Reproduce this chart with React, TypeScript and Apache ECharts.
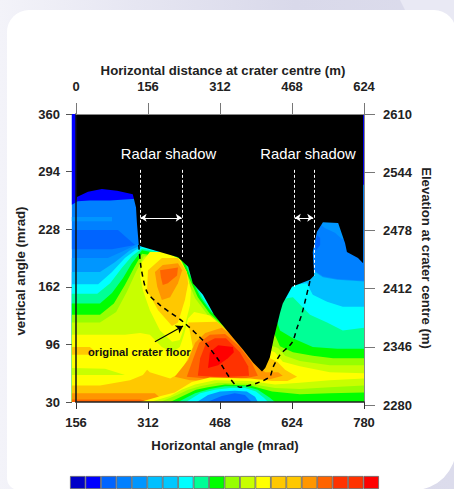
import React, { useEffect, useRef } from "react";
import * as echarts from "echarts";

const FONT = "Liberation Sans";

const angleTicks = [156, 312, 468, 624, 780];
const verticalTicks = [30, 96, 162, 228, 294, 360];
const distanceTicks = [0, 156, 312, 468, 624];
const elevationTicks = [2280, 2346, 2412, 2478, 2544, 2610];

const palette = [
  "#0000c8", "#0000ff", "#0064ff", "#0080ff", "#0096ff",
  "#00c0ff", "#00c8ff", "#00ffff", "#00ff96", "#00ff00",
  "#96ff00", "#c8ff00", "#ffff00", "#ffc800", "#ffc800",
  "#ff9600", "#ff6400", "#ff3200", "#ff3200", "#ff0000",
];

const bottomClose = [[780, 30], [147, 30]];

const baseFill = [[147, 360], [780, 360], [780, 30], [147, 30]];
const capBlue = [[147, 360], [780, 360], [780, 279], [284, 279], [286, 263], [230, 261], [186, 261], [160, 260], [147, 256]];
const stripLeft = [[147, 242], [234, 242], [234, 237], [147, 237]];
const wedgeLeft = [[147, 227], [247, 227], [284, 210], [234, 205], [147, 205]];

const contour4 = [[147, 195], [225, 195], [254, 202], [290, 211], [377, 204], [403, 187], [511, 147], [641, 181], [674, 180], [691, 174], [722, 171], [780, 169]];
const contour5 = [[147, 179], [208, 179], [240, 190], [273, 204], [295, 209], [381, 202], [407, 175], [433, 151], [490, 147], [641, 181], [674, 179], [691, 173], [722, 170], [780, 168]];
const contour7 = [[147, 165], [204, 165], [234, 179], [262, 195], [284, 204], [305, 209], [392, 198], [409, 172], [436, 149], [494, 135], [626, 164], [656, 166], [669, 153], [700, 145], [734, 139], [780, 139]];
const contour8 = [[147, 154], [202, 154], [230, 166], [256, 184], [277, 197], [299, 206], [392, 195], [407, 172], [431, 149], [451, 133], [511, 112], [592, 141], [613, 149], [626, 150], [663, 130], [700, 121], [734, 112], [780, 115]];
const contour9 = [[147, 143], [208, 143], [234, 155], [258, 172], [277, 189], [299, 204], [388, 195], [405, 172], [427, 149], [449, 133], [511, 107], [581, 118], [592, 121], [598, 112], [626, 103], [669, 93], [722, 91], [780, 91]];
const contour10 = [[147, 130], [208, 130], [238, 143], [262, 164], [282, 184], [299, 200], [384, 193], [401, 172], [420, 150], [446, 131], [511, 101], [578, 101], [585, 109], [598, 94], [626, 87], [669, 83], [713, 80], [780, 80]];
const contour11 = [[147, 121], [208, 121], [243, 133], [266, 156], [286, 179], [303, 197], [377, 195], [396, 172], [414, 149], [442, 129], [511, 99], [576, 95], [594, 92], [609, 83], [641, 77], [706, 72], [780, 72]];
const contour12 = [[147, 107], [262, 107], [295, 109], [316, 107], [342, 93], [364, 87], [381, 93], [390, 107], [399, 126], [412, 133], [446, 129], [511, 99], [572, 90], [587, 87], [604, 76], [641, 71], [706, 64], [780, 63]];

const peakCap = [[685, 239], [728, 239], [741, 216], [732, 217], [717, 224], [696, 229], [689, 232]];
const peakSpot = [[674, 210], [678, 221], [685, 218], [685, 210], [676, 204]];

const hillYellow = [[299, 190], [316, 202], [349, 202], [381, 194], [396, 179], [405, 158], [403, 141], [392, 118], [381, 101], [364, 99], [338, 112], [316, 135], [301, 158], [295, 175]];
const hillAmber = [[312, 181], [342, 195], [377, 195], [396, 179], [399, 166], [392, 147], [377, 121], [364, 117], [334, 135], [310, 158]];
const hillOrange = [[327, 179], [344, 187], [377, 189], [386, 181], [377, 166], [360, 150], [342, 147], [332, 162]];
const hillCore = [[338, 181], [377, 184], [375, 175], [355, 166], [344, 164], [340, 173]];

const bandAmberLeft = [[147, 93], [186, 93], [197, 88], [186, 84], [147, 84]];
const bandLimeLeft = [[147, 69], [219, 68], [262, 61], [147, 61]];

const hotAmber = [[147, 49], [208, 49], [273, 55], [301, 61], [310, 67], [316, 64], [360, 57], [381, 63], [399, 80], [409, 93], [399, 121], [461, 122], [511, 101], [559, 72], [576, 80], [592, 76], [609, 67], [635, 59], [609, 53], [576, 52], [533, 49], [425, 38], [338, 30], [147, 30]];
const floorOrange = [[147, 40], [327, 40], [340, 34], [345, 30], [147, 30]];
const floorDeep = [[147, 33], [295, 33], [316, 30], [147, 30]];
const hotOrange = [[370, 59], [399, 78], [414, 98], [436, 109], [472, 115], [511, 99], [550, 72], [566, 64], [594, 64], [604, 60], [576, 56], [522, 55], [457, 54], [403, 55]];
const hotDeep = [[396, 59], [409, 78], [423, 98], [446, 107], [479, 108], [511, 93], [537, 75], [550, 60], [511, 56], [457, 56]];
const hotScarlet = [[420, 60], [425, 80], [438, 98], [457, 103], [481, 103], [511, 87], [529, 71], [531, 60], [490, 59], [457, 59]];
const hotRed = [[446, 87], [464, 95], [496, 93], [498, 87], [485, 80], [464, 72], [442, 69]];

const coldYellow = [[295, 30], [340, 37], [370, 41], [407, 53], [446, 58], [533, 57], [581, 54], [635, 54], [685, 57], [780, 57], [780, 30]];
const coldLime = [[316, 30], [360, 37], [385, 44], [414, 50], [457, 55], [533, 54], [587, 50], [641, 52], [706, 55], [780, 57], [780, 30]];
const coldChart = [[338, 30], [375, 38], [399, 44], [425, 48], [464, 52], [533, 51], [587, 46], [641, 45], [706, 47], [780, 49], [780, 30]];
const coldGreen = [[360, 30], [392, 38], [416, 44], [442, 47], [479, 50], [533, 49], [581, 42], [641, 39], [706, 40], [780, 41], [780, 30]];
const coldMint = [[377, 30], [414, 40], [446, 45], [479, 48], [522, 48], [550, 44], [576, 35], [587, 30]];
const coldCyan = [[394, 30], [425, 40], [457, 44], [490, 46], [522, 46], [546, 42], [563, 35], [572, 30]];
const coldAzure = [[418, 30], [442, 38], [468, 42], [500, 43], [526, 42], [544, 36], [550, 30]];
const coldBlue = [[440, 30], [472, 37], [500, 40], [522, 38], [537, 30]];

const shadowMask = [[156, 360], [778, 360], [778, 189], [767, 195], [743, 202], [739, 212], [724, 235], [691, 236], [678, 225], [669, 202], [672, 175], [663, 170], [624, 162], [604, 143], [598, 132], [585, 104], [576, 81], [566, 69], [559, 65], [540, 75], [518, 90], [483, 112], [455, 130], [431, 153], [409, 166], [399, 185], [377, 196], [338, 202], [299, 208], [292, 210], [288, 235], [286, 253], [279, 268], [245, 272], [212, 274], [182, 271], [158, 265], [156, 261]];

const floorAngle = [292, 297, 310, 338, 388, 436, 461, 511, 550, 576, 583, 598, 624, 635, 646, 663];
const floorVertical = [210, 184, 156, 141, 122, 98, 81, 47, 52, 59, 70, 84, 98, 115, 132, 169];

const shadowEdges = [[295, 210], [386, 196], [628, 162], [672, 175]];
const shadowEdgeTop = 296;
const shadowSpans = [[296, 385], [630, 670]];
const shadowSpanLevel = 241;
const floorPointer = [[327, 99], [388, 117]];

const colorBarLevels = palette.map((_, i) => String(i));

const layers: { level: number; pts: number[][] }[] = [
  { level: 3, pts: baseFill },
  { level: 1, pts: capBlue },
  { level: 4, pts: stripLeft },
  { level: 2, pts: wedgeLeft },
  { level: 4, pts: [...contour4, ...bottomClose] },
  { level: 5, pts: [...contour5, ...bottomClose] },
  { level: 7, pts: [...contour7, ...bottomClose] },
  { level: 8, pts: [...contour8, ...bottomClose] },
  { level: 9, pts: [...contour9, ...bottomClose] },
  { level: 10, pts: [...contour10, ...bottomClose] },
  { level: 11, pts: [...contour11, ...bottomClose] },
  { level: 12, pts: [...contour12, ...bottomClose] },
  { level: 4, pts: peakCap },
  { level: 2, pts: peakSpot },
  { level: 12, pts: hillYellow },
  { level: 13, pts: hillAmber },
  { level: 15, pts: hillOrange },
  { level: 16, pts: hillCore },
  { level: 13, pts: bandAmberLeft },
  { level: 11, pts: bandLimeLeft },
  { level: 13, pts: hotAmber },
  { level: 15, pts: floorOrange },
  { level: 16, pts: floorDeep },
  { level: 15, pts: hotOrange },
  { level: 16, pts: hotDeep },
  { level: 17, pts: hotScarlet },
  { level: 19, pts: hotRed },
  { level: 12, pts: coldYellow },
  { level: 11, pts: coldLime },
  { level: 10, pts: coldChart },
  { level: 9, pts: coldGreen },
  { level: 8, pts: coldMint },
  { level: 7, pts: coldCyan },
  { level: 4, pts: coldAzure },
  { level: 2, pts: coldBlue },
  { level: -1, pts: shadowMask },
];

const plain = (v: number) => String(v);
const tickText = { fontFamily: FONT, fontWeight: "bold" as const, fontSize: 13, color: "#222", formatter: plain };
const titleStyle = { fontFamily: FONT, fontWeight: "bold" as const, fontSize: 13.2, fill: "#222", align: "center" as const, verticalAlign: "middle" as const };

export default function App() {
  const ref = useRef<HTMLDivElement>(null);
  useEffect(() => {
    const chart = echarts.init(ref.current!, undefined, { renderer: "svg" });
    chart.setOption({
      animation: false,
      backgroundColor: "transparent",
      grid: [
        { left: 76, top: 114, width: 288, height: 288 },
        { left: 76, top: 114, width: 288, height: 291 },
        { left: 70, top: 476, width: 309, height: 14 },
      ],
      xAxis: [
        {
          gridIndex: 0, type: "value", position: "bottom", min: 156, max: 780, interval: 156, z: 10,
          splitLine: { show: false },
          axisLine: { show: true, onZero: false, lineStyle: { color: "#222", width: 1.5 } },
          axisTick: { show: true, length: 7, lineStyle: { color: "#333" } },
          axisLabel: { ...tickText, margin: 14, customValues: angleTicks },
        },
        {
          gridIndex: 1, type: "value", position: "top", min: 0, max: 624, interval: 156, z: 10,
          splitLine: { show: false },
          axisLine: { show: true, onZero: false, lineStyle: { color: "#888" } },
          axisTick: { show: true, length: 11, lineStyle: { color: "#777" } },
          axisLabel: { ...tickText, margin: 21, customValues: distanceTicks },
        },
        {
          gridIndex: 2, type: "category", data: colorBarLevels, show: false,
        },
      ],
      yAxis: [
        {
          gridIndex: 0, type: "value", position: "left", min: 30, max: 360, z: 10,
          splitLine: { show: false },
          axisLine: { show: true, onZero: false, lineStyle: { color: "#111", width: 1.5 } },
          axisTick: { show: false },
          axisLabel: { show: false },
        },
        {
          gridIndex: 0, type: "value", position: "left", offset: 4, min: 30, max: 360, z: 10,
          splitLine: { show: false },
          axisLine: { show: false, onZero: false },
          axisTick: { show: true, length: 6, lineStyle: { color: "#555" }, customValues: verticalTicks },
          axisLabel: { ...tickText, margin: 12, customValues: verticalTicks },
        },
        {
          gridIndex: 1, type: "value", position: "right", min: 2280, max: 2610, z: 10,
          splitLine: { show: false },
          axisLine: { show: true, onZero: false, lineStyle: { color: "#888" } },
          axisTick: { show: true, length: 11, lineStyle: { color: "#777" }, customValues: elevationTicks },
          axisLabel: { ...tickText, margin: 19, customValues: elevationTicks },
        },
        { gridIndex: 2, type: "value", min: 0, max: 1, show: false },
      ],
      series: [
        {
          type: "custom",
          xAxisIndex: 0,
          yAxisIndex: 0,
          silent: true,
          z: 1,
          encode: { x: 0, y: 1 },
          data: layers.map((_, i) => [156, 30, i]),
          renderItem: (params: any, api: any) => {
            const layer = layers[params.dataIndex];
            return {
              type: "polygon",
              z2: params.dataIndex + 1,
              shape: { points: layer.pts.map((p) => api.coord(p)) },
              style: { fill: layer.level < 0 ? "#000000" : palette[layer.level] },
            };
          },
        },
        {
          type: "line",
          name: "original crater floor",
          xAxisIndex: 0,
          yAxisIndex: 0,
          silent: true,
          z: 3,
          smooth: 0.25,
          showSymbol: false,
          lineStyle: { color: "#000", width: 1.5, type: [5, 4] },
          data: floorAngle.map((x, i) => [x, floorVertical[i]]),
          markLine: {
            silent: true,
            animation: false,
            symbol: ["none", "arrow"],
            symbolSize: 7,
            label: { show: false },
            lineStyle: { color: "#000", width: 1.1, type: "solid" },
            data: [[{ coord: floorPointer[0] }, { coord: floorPointer[1] }]],
          },
        },
        {
          type: "line",
          xAxisIndex: 0,
          yAxisIndex: 0,
          silent: true,
          z: 3,
          showSymbol: false,
          lineStyle: { opacity: 0 },
          data: [],
          markLine: {
            silent: true,
            animation: false,
            symbol: ["none", "none"],
            label: { show: false },
            lineStyle: { color: "#fff", width: 1, type: [3, 2] },
            data: shadowEdges.map(([x, y]) => [{ coord: [x, shadowEdgeTop] }, { coord: [x, y] }]),
          },
        },
        {
          type: "line",
          xAxisIndex: 0,
          yAxisIndex: 0,
          silent: true,
          z: 3,
          showSymbol: false,
          lineStyle: { opacity: 0 },
          data: [],
          markLine: {
            silent: true,
            animation: false,
            symbol: ["arrow", "arrow"],
            symbolSize: 6,
            label: { show: false },
            lineStyle: { color: "#fff", width: 1, type: "solid" },
            data: shadowSpans.map(([a, b]) => [{ coord: [a, shadowSpanLevel] }, { coord: [b, shadowSpanLevel] }]),
          },
        },
        {
          type: "bar",
          xAxisIndex: 2,
          yAxisIndex: 3,
          silent: true,
          barWidth: "100%",
          data: palette.map((color) => ({
            value: 1,
            itemStyle: { color, borderColor: "#666", borderWidth: 0.8 },
          })),
        },
      ],
      graphic: [
        { type: "text", x: 223, y: 70, style: { ...titleStyle, text: "Horizontal distance at crater centre (m)" } },
        { type: "text", x: 225, y: 445, style: { ...titleStyle, text: "Horizontal angle (mrad)" } },
        { type: "text", x: 20, y: 271, rotation: Math.PI / 2, style: { ...titleStyle, text: "vertical angle (mrad)" } },
        { type: "text", x: 426, y: 258, rotation: -Math.PI / 2, style: { ...titleStyle, text: "Elevation at crater centre (m)" } },
        { type: "text", x: 168.5, y: 154, z: 20, style: { text: "Radar shadow", fontFamily: FONT, fontSize: 14.8, fill: "#fff", align: "center", verticalAlign: "middle" } },
        { type: "text", x: 308, y: 154, z: 20, style: { text: "Radar shadow", fontFamily: FONT, fontSize: 14.8, fill: "#fff", align: "center", verticalAlign: "middle" } },
        { type: "text", x: 88, y: 352, z: 20, style: { text: "original crater floor", fontFamily: FONT, fontWeight: "bold", fontSize: 11.2, fill: "#111", align: "left", verticalAlign: "middle" } },
      ],
    });
    return () => chart.dispose();
  }, []);

  return (
    <div style={{ position: "fixed", left: 0, top: 0, width: 454, height: 489, overflow: "hidden", background: "linear-gradient(90deg, #f3f3f9 0%, #e6e6f2 30%, #d9d9ea 65%, #dcdcec 100%)" }}>
      <div style={{ position: "absolute", left: 0, top: 0, width: 454, height: 489, background: "#e9e9f4", clipPath: "polygon(400px 0, 454px 0, 454px 40px, 420px 40px)" }} />
      <div style={{ position: "absolute", left: 7, top: 10, width: 449, height: 480, background: "#fff", borderRadius: "22px 22px 42px 12px" }} />
      <div ref={ref} style={{ position: "absolute", left: 0, top: 0, width: 454, height: 489 }} />
    </div>
  );
}
